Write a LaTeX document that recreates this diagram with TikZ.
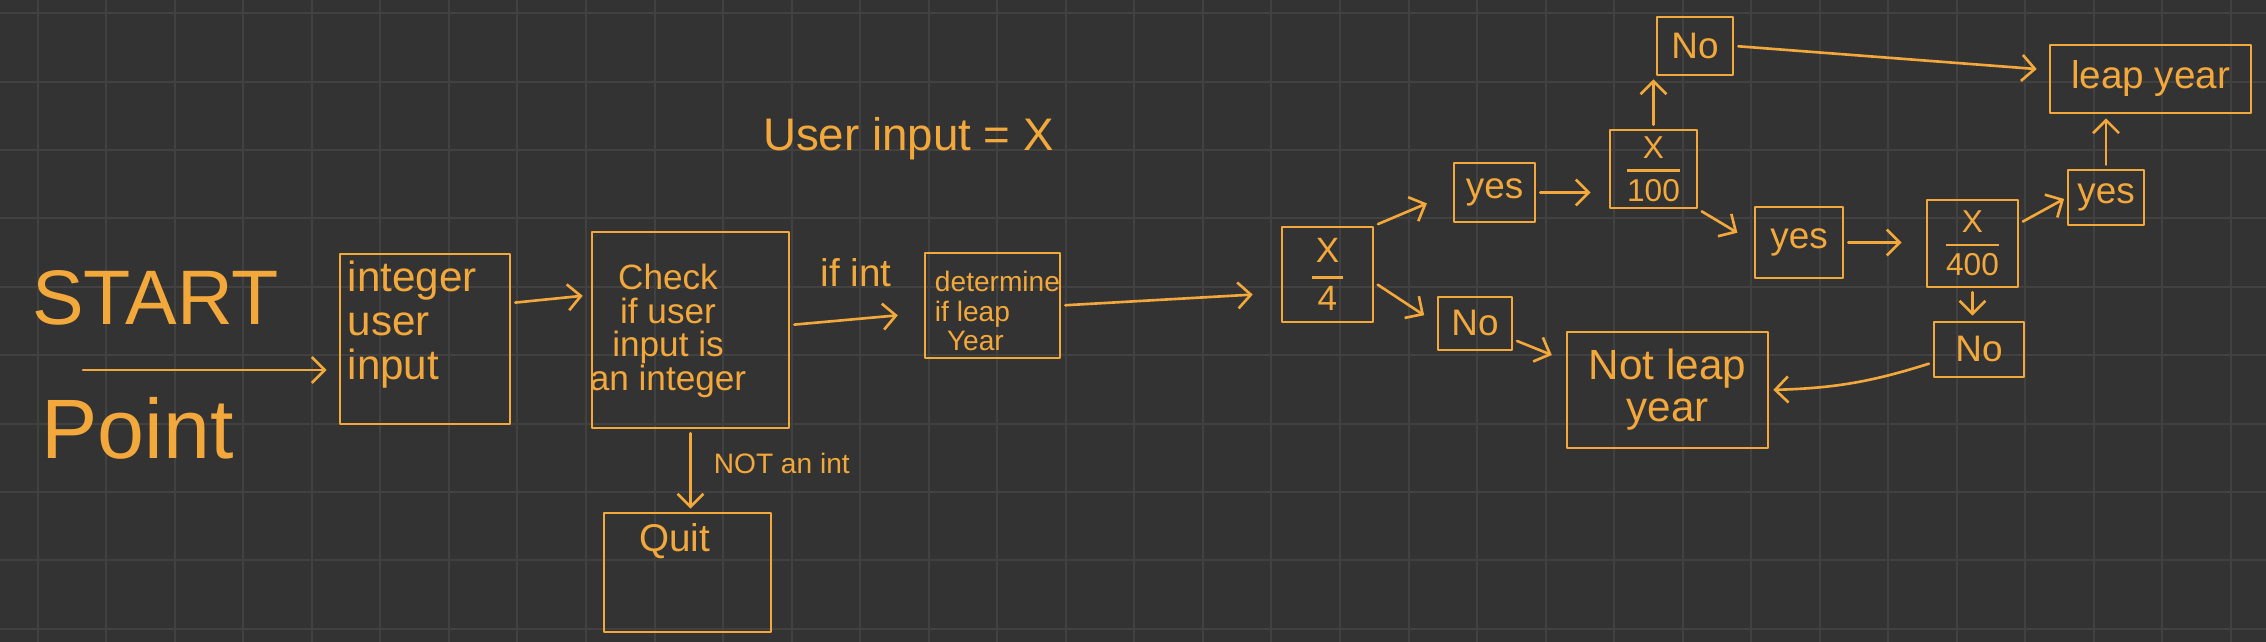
\documentclass[tikz,border=0pt]{standalone}
\usepackage{fontspec}
\usepackage{amsmath}
\setmainfont{Liberation Sans}
\usetikzlibrary{arrows.meta,positioning}
\definecolor{board}{HTML}{333333}
\definecolor{gridcol}{HTML}{414141}
\definecolor{marker}{HTML}{F3A83C}
\tikzset{
  box/.style={draw=marker,line width=0.75pt,inner sep=0pt,text=marker},
  boxsize/.style 2 args={minimum width=#1cm,minimum height=#2cm},
  note/.style={text=marker,inner sep=0pt},
  arr/.style={draw=marker,line width=0.75pt,-{Straight Barb[length=1.3mm,width=2.6mm]},
    shorten >=1.2mm,shorten <=0.4mm},
  gridline/.style={draw=gridcol,line width=0.57pt}
}
\newcommand{\divby}[1]{$\genfrac{}{}{0.7pt}{0}{\text{X}}{\text{#1}}$}
\newcommand{\fs}[1]{\fontsize{#1}{#1}\selectfont}
\begin{document}
\begin{tikzpicture}[x=1cm,y=1cm,line cap=round,line join=round]
  \fill[board] (0,0) rectangle (22.66,6.42);
  \useasboundingbox (0,0) rectangle (22.66,6.42);
  \foreach \i in {0,...,32}
    \draw[gridline] ({0.377+0.6854*\i},0) -- ++(0,6.42);
  \foreach \j in {0,...,9}
    \draw[gridline] (0,{6.287-0.684*\j}) -- ++(22.66,0);

  % start
  \node[note,font=\fs{22}] (start) at (1.555,3.44) {START};
  \node[note,font=\fs{24}] (point) at (1.375,2.14) {Point};
  \coordinate (startpt) at (0.79,2.72);

  % input and check
  \node[box,boxsize={1.70}{1.70}] (intbox) at (4.25,3.03) {};
  \node[note,align=left,anchor=north west,font=\fontsize{12}{12.5}\selectfont] (inttext) at (3.47,3.82) {integer\\user\\input};
  \node[box,boxsize={1.97}{1.96}] (checkbox) at (6.905,3.12) {};
  \node[note,align=center,font=\fontsize{10}{9.6}\selectfont] (checktext) at (6.68,3.11) {Check\\if user\\input is\\an integer};
  \node[box,boxsize={1.67}{1.19}] (quitbox) at (6.875,0.695) {};
  \node[note,font=\fs{11}] (quittext) at (6.745,1.01) {Quit};
  \node[note,font=\fs{11}] (ifint) at (8.56,3.695) {if int};
  \node[note,font=\fs{13}] (userx) at (9.085,5.03) {User input = X};
  \node[box,boxsize={1.35}{1.05}] (leapbox) at (9.925,3.365) {};
  \node[note,align=left,font=\fontsize{8}{8.5}\selectfont] (leaptext) at (9.975,3.31) {determine\\if leap\\\hspace*{1.2mm}Year};

  % divisibility tests
  \node[box,boxsize={0.91}{0.95},font=\fs{10}] (div4) at (13.275,3.675) {\divby{\,4\,}};
  \node[box,boxsize={0.81}{0.59},font=\fs{10.5}] (yesA) at (14.945,4.495) {yes};
  \node[box,boxsize={0.74}{0.53},font=\fs{10.5}] (noA) at (14.75,3.185) {No};
  \node[box,boxsize={0.87}{0.78},font=\fs{9}] (div100) at (16.535,4.73) {\divby{100}};
  \node[box,boxsize={0.76}{0.58},font=\fs{10.5}] (noB) at (16.95,5.96) {No};
  \node[box,boxsize={0.88}{0.71},font=\fs{10.5}] (yesB) at (17.99,3.995) {yes};
  \node[box,boxsize={0.91}{0.87},font=\fs{9}] (div400) at (19.725,3.985) {\divby{400}};
  \node[box,boxsize={0.76}{0.55},font=\fs{10.5}] (yesC) at (21.06,4.445) {yes};
  \node[box,boxsize={0.90}{0.55},font=\fs{10.5}] (noC) at (19.79,2.925) {No};
  \node[box,boxsize={2.01}{0.68},font=\fs{11}] (leapyr) at (21.505,5.63) {leap year};
  \node[box,boxsize={2.01}{1.16},align=center,font=\fs{12}] (notleap) at (16.675,2.52) {Not leap\\year};

  \draw[arr] (startpt) -- (intbox.west |- startpt);
  \draw[arr,shorten >=0.8mm] ([yshift=3.6mm]intbox.east) -- ([yshift=3.5mm]checkbox.west);
  \draw[arr,shorten >=0.3mm] (checkbox.south) -- (checkbox.south |- quitbox.north)
    node[note,pos=0.42,right=2.2mm,font=\fs{8}] (notint) {NOT an int};
  \draw[arr,shorten >=2.6mm] ([yshift=0.5mm]checkbox.east) -- ([yshift=-0.75mm]leapbox.west);
  \draw[arr,shorten >=2.8mm] (leapbox.east) -- ([yshift=-1.85mm]div4.west);
  \draw[arr,shorten >=2.8mm] (div4.north east) -- (yesA.west);
  \draw[arr,shorten >=1.5mm] ([yshift=-0.8mm]div4.east) -- (noA.west);
  \draw[arr,shorten >=1.8mm] (yesA.east) -- (yesA.east -| div100.west);
  \draw[arr,shorten >=0.3mm] (div100.north) -- (div100.north |- noB.south);
  \draw[arr] (noB.east) -- ([yshift=0.9mm]leapyr.west);
  \draw[arr,shorten >=1.9mm] (div100.south east) -- (yesB.west);
  \draw[arr,shorten >=2.4mm] (yesB.east) -- (yesB.east -| div400.west);
  \draw[arr,shorten >=0.3mm] ([yshift=2mm]div400.east) -- (yesC.west);
  \draw[arr,shorten >=0.4mm] (yesC.north) -- (yesC.north |- leapyr.south);
  \draw[arr,shorten >=0.5mm] (div400.south) -- (div400.south |- noC.north);
  \draw[arr,shorten >=0.4mm] ([yshift=-1.3mm]noC.west) to[bend left=8] (notleap.east);
  \draw[arr,shorten >=1.5mm] ([yshift=-1.6mm]noA.east) -- ([yshift=-3mm]notleap.north west);
\end{tikzpicture}
\end{document}
